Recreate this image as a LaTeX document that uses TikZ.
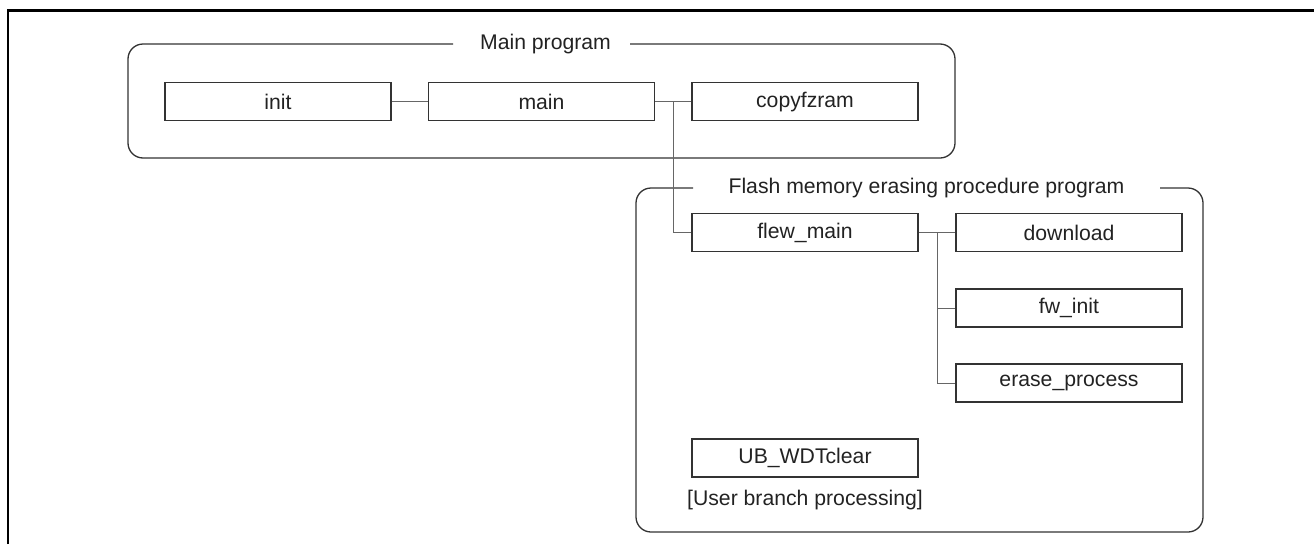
\documentclass[tikz,border=0pt]{standalone}
\usepackage{fontspec}
\setmainfont{Liberation Sans}
\definecolor{txt}{HTML}{222222}
\definecolor{edge}{HTML}{333333}
\definecolor{conn}{HTML}{666666}
\begin{document}
\begin{tikzpicture}[x=1pt,y=-1pt,
  font=\fontsize{21.2}{25}\selectfont, text=txt,
  fbox/.style={draw=edge, line width=1.3pt, minimum width=226pt, minimum height=38pt, inner sep=0pt},
  grp/.style={draw=edge, line width=1.3pt, rounded corners=15pt},
  cn/.style={draw=conn, line width=1pt},
  frame/.style={draw=black, line width=2.6pt}]
\useasboundingbox (0,0) rectangle (1314,544);
% outer frame
\coordinate (f1) at (8,544);
\coordinate (f2) at (8,10.5);
\coordinate (f3) at (1314,10.5);
\draw[frame] (f1) -- (f2) -- (f3);
% Main program group
\node (mtitle) at (545.5,44) {Main program};
\coordinate (m1) at (453,44);
\coordinate (m2) at (630,44);
\draw[grp] (m1) -- (128,44) -- (128,158) -- (955,158) -- (955,44) -- (m2);
% Flash group
\node (ftitle) at (926.5,188) {Flash memory erasing procedure program};
\coordinate (g1) at (693,188);
\coordinate (g2) at (1160,188);
\draw[grp] (g1) -- (636,188) -- (636,532) -- (1203,532) -- (1203,188) -- (g2);
% boxes
\node[fbox] (init) at (278,101.7) {init};
\node[fbox] (main) at (541.5,101.7) {main};
\node[fbox] (copy) at (805,101.7) {copyfzram};
\node[fbox] (flew) at (805,232.5) {flew\_main};
\node[fbox] (down) at (1069,232.5) {download};
\node[fbox] (fwinit) at (1069,308) {fw\_init};
\node[fbox] (erase) at (1069,383) {erase\_process};
\node[fbox] (ub) at (805,458) {UB\_WDTclear};
\node (ubl) at (805,500) {[User branch processing]};
% connectors
\draw[cn] (init) -- (main);
\draw[cn] (main) -- (copy);
\coordinate (j1) at (673,101.7);
\draw[cn] (j1) |- (flew.west);
\draw[cn] (flew) -- (down);
\coordinate (j2) at (937,232.5);
\draw[cn] (j2) |- (erase.west);
\draw[cn] (j2 |- fwinit) -- (fwinit.west);
\end{tikzpicture}
\end{document}
